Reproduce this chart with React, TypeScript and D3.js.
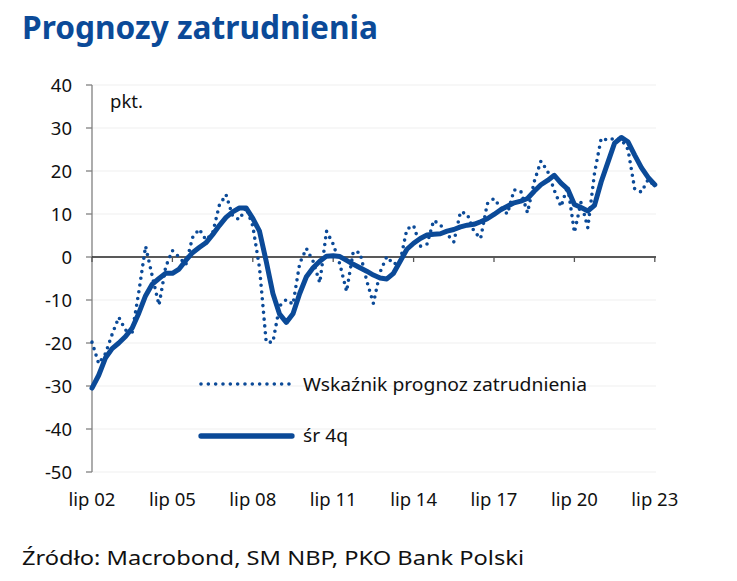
import React from "react";
import * as d3 from "d3";

const W = 737;
const H = 581;

const xTickLabels = ["lip 02", "lip 05", "lip 08", "lip 11", "lip 14", "lip 17", "lip 20", "lip 23"];
const xTickQuarters = [0, 12, 24, 36, 48, 60, 72, 84];
const yTicks = [40, 30, 20, 10, 0, -10, -20, -30, -40, -50];

// Quarterly values, Q3 2002 .. Q3 2023
const forecastIndex = [
  -19.8, -24.8, -22.5, -18, -14, -17, -17.5, -8, 2.5, -4.5,
  -11.2, -2.3, 1.5, 0, -1.8, 4.5, 6.5, 4, 5.5, 12,
  14.5, 9.5, 8.7, 11.5, 7.2, -2.5, -19.8, -19.8, -11.4, -9.9,
  -11, -1.5, 2, -1, -6, 6, 3, -1.7, -8, 1.3,
  1, -5.5, -10.8, -3.5, 0.1, -1.7, -1, 6.5, 7.3, 2.5,
  3, 8.5, 7.5, 5.3, 3.5, 10.5, 10, 6, 4.3, 12.4,
  13.6, 11.5, 10, 15.6, 15.3, 10.3, 17.5, 22.3, 20, 15.5,
  11.7, 16.5, 5.7, 12.8, 6.8, 19.5, 27.6, 27.2, 27.6, 27.4,
  25, 15.8, 15.1, 18, 16.5,
];

const avg4q = [
  -30.5, -27.5, -23.5, -21.3, -20, -18.5, -16.5, -13, -9, -6.3,
  -5, -3.8, -3.8, -2.8, -0.8, 1, 2.2, 3.3, 5.2, 7.3,
  9.2, 10.5, 11.4, 11.4, 9, 6, -1, -8.5, -13.3, -15.2,
  -13.2, -8.5, -4.6, -2.5, -1, 0.2, 0.3, 0.1, -0.8, -1.7,
  -2.5, -3.3, -4.2, -4.9, -5.1, -3.8, -1, 1.8, 3.2, 4.3,
  5.1, 5.3, 5.4, 6, 6.4, 7, 7.4, 7.6, 8.2, 8.9,
  9.9, 11, 11.8, 12.6, 13, 13.6, 15.3, 16.8, 17.8, 19,
  17.2, 15.8, 12.2, 11.5, 10.7, 12, 17.5, 22, 26.5, 27.8,
  26.8, 23.7, 20.8, 18.5, 16.8,
];

const seriesNames = ["Wskaźnik prognoz zatrudnienia", "śr 4q"];
const title = "Prognozy zatrudnienia";
const unitLabel = "pkt.";
const source = "Źródło: Macrobond, SM NBP, PKO Bank Polski";

const BLUE = "#0b4a98";
const FONT = "'Noto Sans', 'Open Sans', sans-serif";

export default function App() {
  const x = d3.scaleLinear().domain([0, 84]).range([92, 654.8]);
  const y = d3.scaleLinear().domain([-50, 40]).range([472, 85]);
  const line = d3
    .line<number>()
    .x((_, i) => x(i))
    .y((d) => y(d));

  const x0 = 92;
  const x1 = 656;

  return (
    <svg
      width={W}
      height={H}
      viewBox={`0 0 ${W} ${H}`}
      style={{ position: "absolute", left: 0, top: 0, display: "block", background: "#fff" }}
      fontFamily={FONT}
    >
      <text x={22} y={39} fontSize={32} fontWeight={700} fill={BLUE} textLength={356} lengthAdjust="spacingAndGlyphs">
        {title}
      </text>

      {/* grid */}
      {yTicks
        .filter((t) => t !== 0)
        .map((t) => (
          <line key={"g" + t} x1={x0} x2={x1} y1={y(t)} y2={y(t)} stroke="#efefef" strokeWidth={1} />
        ))}

      {/* y axis */}
      <line x1={x0} x2={x0} y1={y(40)} y2={y(-50)} stroke="#808080" strokeWidth={1.3} />
      {yTicks.map((t) => (
        <g key={"y" + t}>
          <line x1={x0 - 6} x2={x0} y1={y(t)} y2={y(t)} stroke="#808080" strokeWidth={1.3} />
          <text x={72} y={y(t) + 6.5} fontSize={18.5} textAnchor="end" fill="#111">
            {t}
          </text>
        </g>
      ))}

      {/* zero line and x ticks */}
      <line x1={x0} x2={x1} y1={y(0)} y2={y(0)} stroke="#222" strokeWidth={1.3} />
      {xTickQuarters.map((q, i) => (
        <g key={"x" + q}>
          <line x1={x(q)} x2={x(q)} y1={y(0)} y2={y(0) + 5} stroke="#555" strokeWidth={1.3} />
          <text x={x(q)} y={506} fontSize={18.5} textAnchor="middle" fill="#111">
            {xTickLabels[i]}
          </text>
        </g>
      ))}

      <text x={110} y={108} fontSize={18.5} fill="#111">
        {unitLabel}
      </text>

      {/* series */}
      <path
        d={line(forecastIndex) || ""}
        fill="none"
        stroke={BLUE}
        strokeWidth={3.6}
        strokeLinecap="round"
        strokeLinejoin="round"
        strokeDasharray="0 6.8"
      />
      <path
        d={line(avg4q) || ""}
        fill="none"
        stroke={BLUE}
        strokeWidth={5}
        strokeLinecap="round"
        strokeLinejoin="round"
      />

      {/* legend */}
      <line
        x1={201}
        x2={289}
        y1={384}
        y2={384}
        stroke={BLUE}
        strokeWidth={3.6}
        strokeLinecap="round"
        strokeDasharray="0 7.33"
      />
      <text x={303} y={391} fontSize={18.5} fill="#111" textLength={284} lengthAdjust="spacingAndGlyphs">
        {seriesNames[0]}
      </text>
      <line x1={201} x2={292} y1={436} y2={436} stroke={BLUE} strokeWidth={5.3} strokeLinecap="round" />
      <text x={303} y={442} fontSize={18.5} fill="#111" textLength={45} lengthAdjust="spacingAndGlyphs">
        {seriesNames[1]}
      </text>

      <text x={22} y={565} fontSize={20} fill="#111" textLength={502} lengthAdjust="spacingAndGlyphs">
        {source}
      </text>
    </svg>
  );
}
